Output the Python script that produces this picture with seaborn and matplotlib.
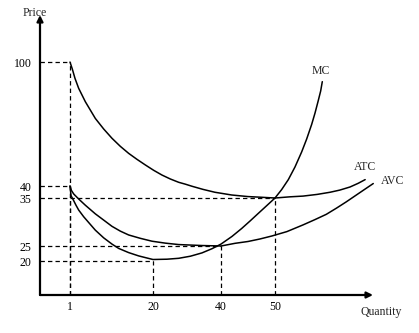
import numpy as np
import pandas as pd
import matplotlib
matplotlib.use("Agg")
import matplotlib.pyplot as plt
import seaborn as sns

# ---- data (quantity / price values) ----
atc_q = [1, 1.53, 2.14, 2.98, 4.51, 6.80, 8.71, 10.61, 12.52, 14.43, 16.34, 18.24, 20.2,
         22.65, 25.1, 27.55, 29.5, 31.47, 34.7, 38.2, 42.0, 45.0, 47.6, 50, 52.8, 55.2,
         57.8, 60.2, 62.0, 63.9, 65.4, 66.7]
atc_p = [100, 96.6, 92.1, 87.3, 80.8, 72.7, 67.6, 63.1, 59.2, 55.8, 52.9, 50.2, 47.6,
         45.3, 43.4, 41.8, 40.9, 39.9, 38.6, 37.4, 36.25, 35.6, 35.3, 35, 35.5, 35.8,
         36.5, 37.4, 38.3, 39.6, 41.3, 43.1]

mc_q = [1, 1.23, 1.76, 2.37, 2.98, 4.13, 5.27, 6.80, 8.71, 10.61, 12.14, 14.43, 16.72,
        18.62, 20, 24.1, 27.55, 31.0, 34.4, 37.35, 40, 42.04, 43.83, 45.37, 46.91, 48.46,
        50, 51.23, 52.47, 53.7, 54.94, 55.86, 56.79, 57.41, 58.02, 58.46, 58.76]
mc_p = [40, 36.0, 34.6, 33.5, 32.5, 31.1, 29.9, 28.3, 26.7, 25.4, 24.2, 22.8, 21.7,
        21.0, 20.5, 20.6, 20.9, 21.6, 22.7, 24.1, 25.4, 27.0, 28.65, 30.2, 31.8, 33.4,
        35, 38.5, 43.1, 49.2, 56.5, 62.7, 69.8, 75.3, 81.4, 86.0, 90.5]

avc_q = [1, 1.31, 1.84, 2.98, 4.51, 6.80, 8.71, 10.61, 12.52, 14.43, 17.1, 19.77, 23.6,
         27.55, 31.0, 34.4, 37.35, 40, 42.6, 45.0, 47.2, 49.4, 52.2, 55.2, 57.4, 59.5,
         61.4, 63.2, 64.9, 66.6, 68.2]
avc_p = [40, 38.2, 36.7, 34.8, 33.5, 31.7, 30.4, 29.1, 28.1, 27.3, 26.6, 26.0, 25.6,
         25.3, 25.2, 25.1, 25.05, 25, 25.56, 25.94, 26.46, 27.08, 28.0, 29.4, 30.5, 31.6,
         32.9, 34.2, 36.0, 38.6, 41.2]

curve_names = ["ATC", "MC", "AVC"]

# guide points (dashed lines) and tick labels
guide_q = [1, 1, 20, 40, 50]
guide_p = [100, 40, 20, 25, 35]
x_ticks = [1, 20, 40, 50]
x_tick_labels = ["1", "20", "40", "50"]
y_ticks = [20, 25, 35, 40, 100]
y_tick_labels = ["20", "25", "35", "40", "100"]

df = pd.concat([
    pd.DataFrame({"Quantity": atc_q, "Price": atc_p, "curve": "ATC"}),
    pd.DataFrame({"Quantity": mc_q, "Price": mc_p, "curve": "MC"}),
    pd.DataFrame({"Quantity": avc_q, "Price": avc_p, "curve": "AVC"}),
], ignore_index=True)

# ---- style ----
sns.set_style("white")
plt.rcParams["font.family"] = ["Liberation Serif", "DejaVu Serif"]
FS = 8.5

fig = plt.figure(figsize=(4.19, 3.33), dpi=100)
ax = fig.add_axes([40 / 419, 38 / 333, 333 / 419, 280 / 333])

# schematic (non-linear) axes, as in the textbook drawing
xk_v = [0, 1, 20, 40, 50, 70]
xk_s = [0, 30, 113, 181, 235, 343]
yk_v = [0, 20, 25, 35, 40, 100, 130]
yk_s = [0, 34, 49, 97, 109, 233, 295]

def fx(v):
    return np.interp(np.asarray(v, float), xk_v, xk_s)

def ix(s):
    return np.interp(np.asarray(s, float), xk_s, xk_v)

def fy(v):
    return np.interp(np.asarray(v, float), yk_v, yk_s)

def iy(s):
    return np.interp(np.asarray(s, float), yk_s, yk_v)

ax.set_xscale("function", functions=(fx, ix))
ax.set_yscale("function", functions=(fy, iy))

sns.lineplot(data=df, x="Quantity", y="Price", hue="curve", units="curve",
             estimator=None, sort=False, palette={n: "black" for n in curve_names},
             linewidth=1.1, legend=False, ax=ax)
for ln in ax.get_lines():
    ln.set_clip_on(False)
    ln.set_solid_joinstyle("round")

# dashed guide lines
for q, p in zip(guide_q, guide_p):
    ax.plot([0, q], [p, p], color="black", lw=0.9, ls=(0, (3.5, 2.5)), clip_on=False)
    ax.plot([q, q], [0, p], color="black", lw=0.9, ls=(0, (3.5, 2.5)), clip_on=False)

ax.set_xlim(0, 68.15)
ax.set_ylim(0, 122.76)

ax.set_xticks(x_ticks)
ax.set_xticklabels(x_tick_labels)
ax.set_yticks(y_ticks)
ax.set_yticklabels(y_tick_labels)
ax.minorticks_off()
ax.tick_params(axis="both", length=0, labelsize=FS, colors="black")
ax.tick_params(axis="x", pad=4)
ax.tick_params(axis="y", pad=6)
ax.set_xlabel("")
ax.set_ylabel("")
for s in ax.spines.values():
    s.set_visible(False)

# arrowed axes
arrow = dict(arrowstyle="-|>", lw=1.6, color="black", mutation_scale=9,
             shrinkA=0, shrinkB=0)
ax.annotate("", xy=(0, 1), xytext=(0, 0), xycoords="axes fraction",
            textcoords="axes fraction", arrowprops=arrow)
ax.annotate("", xy=(1, 0), xytext=(0, 0), xycoords="axes fraction",
            textcoords="axes fraction", arrowprops=arrow)

# axis titles
fig.text(35 / 419, 1 - 13.5 / 333, "Price", ha="center", va="center", fontsize=FS)
fig.text(381.5 / 419, 1 - 312 / 333, "Quantity", ha="center", va="center", fontsize=FS)

# curve labels
fig.text(321 / 419, 1 - 70.5 / 333, "MC", ha="center", va="center", fontsize=FS)
fig.text(365.5 / 419, 1 - 167 / 333, "ATC", ha="center", va="center", fontsize=FS)
fig.text(392.5 / 419, 1 - 181 / 333, "AVC", ha="center", va="center", fontsize=FS)

fig.savefig("out.png", dpi=100)
